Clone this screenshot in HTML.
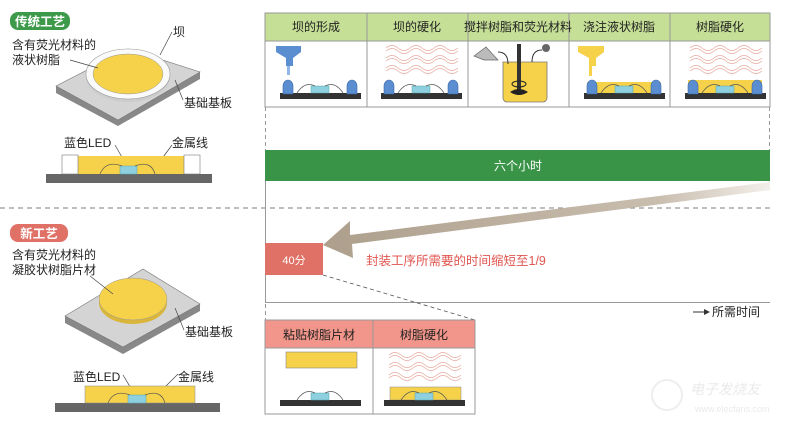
<!DOCTYPE html>
<html><head><meta charset="utf-8"><style>
body{margin:0;background:#fff;}
svg{display:block;font-family:"Liberation Sans","Noto Sans CJK SC",sans-serif;}
</style></head><body>
<svg width="800" height="426" viewBox="0 0 800 426" xmlns="http://www.w3.org/2000/svg">
<defs>
<linearGradient id="ag" x1="0" y1="0" x2="1" y2="0">
<stop offset="0" stop-color="#ad9f8c"/><stop offset="0.75" stop-color="#c9bdae"/><stop offset="1" stop-color="#f3efea"/>
</linearGradient>
<g id="waves" fill="none" stroke="#e8aaa0" stroke-width="0.8">
<path d="M20 48 q6 -5 12 0 t12 0 t12 0 t12 0 t12 0 t12 0"/>
<path d="M20 51 q6 -5 12 0 t12 0 t12 0 t12 0 t12 0 t12 0"/>
<path d="M20 58 q6 -5 12 0 t12 0 t12 0 t12 0 t12 0 t12 0"/>
<path d="M20 61 q6 -5 12 0 t12 0 t12 0 t12 0 t12 0 t12 0"/>
<path d="M20 68 q6 -5 12 0 t12 0 t12 0 t12 0 t12 0 t12 0"/>
<path d="M20 71 q6 -5 12 0 t12 0 t12 0 t12 0 t12 0 t12 0"/>
</g>
<g id="domes" fill="#5b8ed0" stroke="#3a6aa8" stroke-width="0.6">
<path d="M18 94 v-8 a5 6 0 0 1 10 0 v8z"/>
<path d="M82 94 v-8 a5 6 0 0 1 10 0 v8z"/>
</g>
<g id="baseled">
<rect x="15" y="93" width="81" height="6" fill="#333"/>
<rect x="46" y="86" width="18" height="7" fill="#8fd0e0" stroke="#5aa" stroke-width="0.5"/>
<path d="M32 93 q8 -12 18 -7 M60 86 q10 -5 18 7" fill="none" stroke="#555" stroke-width="0.7"/>
</g>
</defs>

<!-- top table -->
<rect x="265" y="13" width="505" height="94" fill="#fff" stroke="#999"/>
<rect x="265" y="13" width="505" height="28" fill="#c5df96" stroke="#999"/>
<g stroke="#999"><line x1="367" y1="13" x2="367" y2="107"/><line x1="468" y1="13" x2="468" y2="107"/><line x1="569" y1="13" x2="569" y2="107"/><line x1="670" y1="13" x2="670" y2="107"/></g>
<g font-size="12" fill="#222" text-anchor="middle">
<text x="316" y="31">坝的形成</text><text x="417" y="31">坝的硬化</text><text x="518" y="31">搅拌树脂和荧光材料</text><text x="619" y="31">浇注液状树脂</text><text x="720" y="31">树脂硬化</text>
</g>
<g transform="translate(265,0)">
<use href="#baseled"/><use href="#domes"/>
<path d="M11 46 h25 v6 l-8 6 v8 h-7 v-8 l-10 -6z" fill="#5b8ed0"/>
<rect x="22" y="66" width="3" height="9" fill="#8fb8e8"/>
</g>
<g transform="translate(366,0)"><use href="#waves"/><use href="#baseled"/><use href="#domes"/></g>
<g transform="translate(468,0)">
<path d="M35 62 h44 v36 a4 4 0 0 1 -4 4 h-36 a4 4 0 0 1 -4 -4z" fill="#f6d24a" stroke="#777" stroke-width="0.8"/>
<rect x="49" y="44" width="4" height="48" fill="#333"/>
<path d="M42 92 q9 -6 18 0 q-9 6 -18 0z" fill="#222"/>
<ellipse cx="51" cy="84" rx="7" ry="3" fill="none" stroke="#222"/>
<path d="M6 56 l12 -9 l12 13 h-14z" fill="#bbb" stroke="#666" stroke-width="0.7"/>
<path d="M30 52 q10 0 10 12 M74 50 q-10 0 -10 12" fill="none" stroke="#333"/>
<circle cx="78" cy="48" r="4" fill="#666"/>
</g>
<g transform="translate(569,0)">
<rect x="18" y="82" width="74" height="11" fill="#f6d24a"/>
<use href="#baseled"/><use href="#domes"/>
<path d="M9 46 h26 v6 l-8 6 v8 h-7 v-8 l-11 -6z" fill="#f6d24a"/>
<rect x="20" y="66" width="3" height="10" fill="#f6d24a"/>
</g>
<g transform="translate(670,0)">
<use href="#waves"/>
<rect x="18" y="80" width="74" height="13" fill="#f6d24a"/>
<use href="#baseled"/><use href="#domes"/>
</g>

<!-- timeline -->
<g stroke="#999" stroke-dasharray="4,3"><line x1="265.5" y1="107" x2="265.5" y2="150"/><line x1="769.5" y1="107" x2="769.5" y2="150"/><line x1="265.5" y1="304" x2="265.5" y2="320"/></g>
<line x1="265.5" y1="181" x2="265.5" y2="302" stroke="#999"/>
<line x1="265" y1="302.5" x2="770" y2="302.5" stroke="#999"/>
<rect x="265" y="150" width="505" height="31" fill="#3a9448"/>
<text x="518" y="170" font-size="12" fill="#fff" text-anchor="middle">六个小时</text>
<line x1="0" y1="208" x2="770" y2="208" stroke="#999" stroke-dasharray="5,4" stroke-width="1.2"/>
<path d="M770 182 L770 190 L352 244 L353 258 L323 245 L350 221 L350 235 Z" fill="url(#ag)"/>
<rect x="265" y="243" width="58" height="32" fill="#e07167"/>
<text x="294" y="264" font-size="11" fill="#fff" text-anchor="middle">40分</text>
<text x="366" y="265" font-size="12.5" fill="#e0554f">封装工序所需要的时间缩短至1/9</text>
<line x1="323" y1="275" x2="475" y2="320" stroke="#555" stroke-dasharray="4,3" stroke-width="0.8"/>
<line x1="693" y1="312" x2="705" y2="312" stroke="#333"/><path d="M704 309 l6 3 l-6 3z" fill="#333"/>
<text x="712" y="316" font-size="12" fill="#222">所需时间</text>

<!-- bottom table -->
<rect x="265" y="320" width="210" height="94" fill="#fff" stroke="#999"/>
<rect x="265" y="320" width="210" height="28" fill="#f2958a" stroke="#999"/>
<line x1="373" y1="320" x2="373" y2="414" stroke="#999"/>
<g font-size="12" fill="#222" text-anchor="middle"><text x="319" y="339">粘贴树脂片材</text><text x="424" y="339">树脂硬化</text></g>
<rect x="286" y="352" width="71" height="16" fill="#f6d24a" stroke="#888" stroke-width="0.6"/>
<g transform="translate(265,307)"><use href="#baseled"/></g>
<g transform="translate(369,307)">
<use href="#waves"/>
<rect x="21" y="80" width="71" height="13" fill="#f6d24a" stroke="#888" stroke-width="0.5"/>
<use href="#baseled"/>
</g>

<!-- left: traditional -->
<rect x="10" y="12" width="60" height="18" rx="8" fill="#3d9a4a"/>
<text x="40" y="26" font-size="12.5" font-weight="bold" fill="#fff" text-anchor="middle">传统工艺</text>
<g font-size="12" fill="#222">
<text x="12" y="49">含有荧光材料的</text><text x="12" y="64">液状树脂</text>
<text x="173" y="36">坝</text><text x="184" y="107">基础基板</text>
<text x="64" y="147">蓝色LED</text><text x="172" y="147">金属线</text>
</g>
<path d="M56 86 L128 49 L200 72 L200 79 L118 126 L56 93 Z" fill="#888"/>
<path d="M56 86 L128 49 L200 72 L118 120 Z" fill="#d4d4d4" stroke="#777" stroke-width="0.6"/>
<ellipse cx="128" cy="77" rx="42" ry="25" fill="#ccc"/>
<ellipse cx="128" cy="74" rx="42" ry="25" fill="#fafafa" stroke="#999" stroke-width="0.6"/>
<ellipse cx="128" cy="74" rx="35" ry="20" fill="#f6d24a" stroke="#999" stroke-width="0.5"/>
<g stroke="#444" stroke-width="0.7" fill="none">
<line x1="70" y1="60" x2="98" y2="68"/><line x1="172" y1="32" x2="160" y2="55"/><line x1="183" y1="100" x2="175" y2="80"/>
<line x1="115" y1="145" x2="127" y2="166"/><line x1="172" y1="145" x2="158" y2="164"/>
</g>
<rect x="46" y="174" width="166" height="9" fill="#666"/>
<rect x="78" y="156" width="106" height="18" fill="#f6d24a"/>
<rect x="62" y="155" width="16" height="19" fill="#fff" stroke="#777" stroke-width="0.6"/>
<rect x="184" y="155" width="16" height="19" fill="#fff" stroke="#777" stroke-width="0.6"/>
<rect x="120" y="166" width="17" height="8" fill="#8fd0e0" stroke="#5aa" stroke-width="0.5"/>
<path d="M100 174 q6 -14 22 -8 M135 166 q16 -6 20 8" fill="none" stroke="#555" stroke-width="0.7"/>

<!-- left: new -->
<rect x="10" y="224" width="58" height="18" rx="8" fill="#e07167"/>
<text x="39" y="238" font-size="12.5" font-weight="bold" fill="#fff" text-anchor="middle">新工艺</text>
<g font-size="12" fill="#222">
<text x="12" y="259">含有荧光材料的</text><text x="12" y="274">凝胶状树脂片材</text>
<text x="185" y="336">基础基板</text>
<text x="73" y="381">蓝色LED</text><text x="178" y="381">金属线</text>
</g>
<path d="M65 316 L143 269 L200 304 L200 311 L123 354 L65 323 Z" fill="#888"/>
<path d="M65 316 L143 269 L200 304 L123 347 Z" fill="#d4d4d4" stroke="#777" stroke-width="0.6"/>
<ellipse cx="133" cy="303" rx="34" ry="21" fill="#d9b63a"/>
<ellipse cx="133" cy="299" rx="34" ry="21" fill="#f6d24a" stroke="#999" stroke-width="0.5"/>
<g stroke="#444" stroke-width="0.7" fill="none">
<line x1="90" y1="276" x2="113" y2="294"/><line x1="184" y1="330" x2="175" y2="308"/>
<line x1="123" y1="375" x2="135" y2="395"/><line x1="178" y1="374" x2="160" y2="392"/>
</g>
<rect x="55" y="403" width="165" height="9" fill="#666"/>
<rect x="85" y="386" width="110" height="17" fill="#f6d24a" stroke="#888" stroke-width="0.5"/>
<rect x="128" y="395" width="18" height="8" fill="#8fd0e0" stroke="#5aa" stroke-width="0.5"/>
<path d="M108 403 q6 -14 22 -8 M145 395 q16 -6 20 8" fill="none" stroke="#555" stroke-width="0.7"/>

<!-- watermark -->
<circle cx="667" cy="395" r="15" fill="none" stroke="#eee" stroke-width="2"/>
<text x="690" y="394" font-size="14" fill="#eaeaea" font-style="italic">电子发烧友</text>
<text x="695" y="412" font-size="9" fill="#eaeaea">www.elecfans.com</text>
</svg>
</body></html>
